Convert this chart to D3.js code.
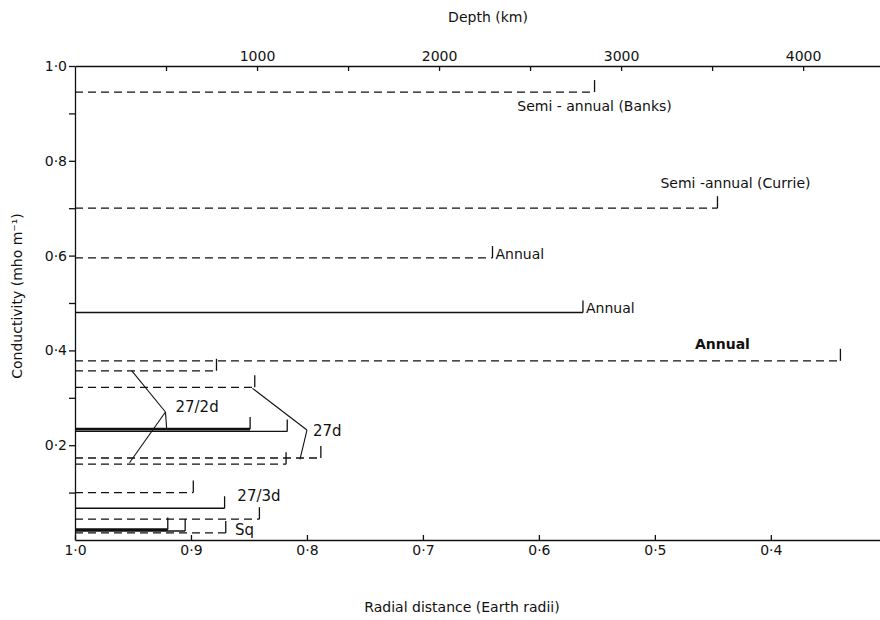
<!DOCTYPE html>
<html>
<head>
<meta charset="utf-8">
<script src="https://cdn.jsdelivr.net/npm/d3@7"></script>
<style>
  body { margin: 0; background: #fff; }
  text { font-family: "DejaVu Sans", sans-serif; fill: #111; }
</style>
</head>
<body>
<svg id="chart" width="880" height="620"></svg>
<script>
// conductivity (mho/m) of each model line, radius (Earth radii) where it stops, and model kind
const conductivity = [0.945, 0.70, 0.595, 0.48, 0.378, 0.357, 0.322, 0.234, 0.229, 0.173, 0.160, 0.100, 0.067, 0.044, 0.022, 0.019, 0.015];
const radiusEnd    = [0.552, 0.446, 0.640, 0.562, 0.340, 0.878, 0.845, 0.849, 0.817, 0.788, 0.818, 0.898, 0.871, 0.841, 0.920, 0.905, 0.870];
const modelKind    = ["core", "core", "core", "shell", "core", "core", "core", "heavy", "shell", "core", "core", "core", "shell", "core", "heavy", "shell", "core"];
const lineLabel    = ["Semi - annual (Banks)", "Semi -annual (Currie)", "Annual", "Annual", "Annual", "", "", "", "", "", "", "", "", "", "", "", ""];

const radialTicks = [1.0, 0.9, 0.8, 0.7, 0.6, 0.5, 0.4];
const depthTicks = [500, 1000, 1500, 2000, 2500, 3000, 3500, 4000, 4500];
const depthLabels = [1000, 2000, 3000, 4000];
const condTicks = [0.1, 0.2, 0.3, 0.4, 0.5, 0.6, 0.7, 0.8, 0.9, 1.0];
const condLabels = [0.2, 0.4, 0.6, 0.8, 1.0];

// period groups pointing at several lines: [radius, conductivity] of junction and targets
const groupNames = ["27/2d", "27d"];
const groupJunction = [[0.922, 0.270], [0.800, 0.232]];
const groupTargets = [
  [[0.951, 0.357], [0.953, 0.163], [0.921, 0.236]],
  [[0.847, 0.320], [0.806, 0.170]]
];
const extraLabels = ["27/3d", "Sq"];
const extraAt = [[0.86, 0.092], [0.862, 0.021]];

const EARTH_R = 6371;

const svg = d3.select("#chart");
const x = d3.scaleLinear().domain([1.0, 0.305]).range([75, 881]);
const y = d3.scaleLinear().domain([0, 1]).range([540, 66]);
const depth = d3.scaleLinear()
  .domain([0, 0.695 * EARTH_R])
  .range([75, 881]);

const fmt = (d) => d3.format(".1f")(d).replace(".", "·");

// bottom axis
const axisB = svg.append("g")
  .attr("transform", `translate(0,${y(0)})`)
  .call(d3.axisBottom(x).tickValues(radialTicks).tickSizeInner(-5).tickSizeOuter(0).tickPadding(5).tickFormat(fmt));

// top axis (depth)
const axisT = svg.append("g")
  .attr("transform", `translate(0,${y(1)})`)
  .call(d3.axisTop(depth).tickValues(depthTicks).tickSizeInner(-5).tickSizeOuter(0).tickPadding(5)
    .tickFormat((d) => depthLabels.includes(d) ? d : ""));

// left axis
const axisL = svg.append("g")
  .attr("transform", `translate(${x(1)},0)`)
  .call(d3.axisLeft(y).tickValues(condTicks).tickSizeInner(6).tickSizeOuter(0).tickPadding(2)
    .tickFormat((d) => condLabels.some((v) => Math.abs(v - d) < 1e-9) ? fmt(d) : ""));

[axisB, axisT, axisL].forEach((g) => {
  g.selectAll("path, line").attr("stroke", "#111").attr("stroke-width", 1.3);
  g.selectAll("text").style("font-size", "14px").attr("fill", "#111");
});

// model lines
const rows = conductivity.map((c, i) => ({ c, r: radiusEnd[i], kind: modelKind[i], label: lineLabel[i] }));

const lines = svg.append("g");
lines.selectAll("line.h")
  .data(rows)
  .enter()
  .append("line")
  .attr("class", "h")
  .attr("x1", x(1))
  .attr("x2", (d) => x(d.r))
  .attr("y1", (d) => y(d.c))
  .attr("y2", (d) => y(d.c))
  .attr("stroke", "#111")
  .attr("stroke-width", (d) => d.kind === "heavy" ? 2.8 : 1.3)
  .attr("stroke-dasharray", (d) => d.kind === "core" ? "8,5" : null);

lines.selectAll("line.v")
  .data(rows)
  .enter()
  .append("line")
  .attr("class", "v")
  .attr("x1", (d) => x(d.r))
  .attr("x2", (d) => x(d.r))
  .attr("y1", (d) => y(d.c))
  .attr("y2", (d) => y(d.c) - 12)
  .attr("stroke", "#111")
  .attr("stroke-width", 1.3);

// line labels
const labelPlace = [
  (d) => [x(d.r), y(d.c) + 19, "middle"],
  (d) => [x(d.r) + 18, y(d.c) - 20, "middle"],
  (d) => [x(d.r) + 3, y(d.c) + 1, "start"],
  (d) => [x(d.r) + 3, y(d.c) + 1, "start"],
  (d) => [x(d.r) - 118, y(d.c) - 12, "middle"]
];
rows.forEach((d, i) => {
  if (!d.label) return;
  const [lx, ly, anchor] = labelPlace[i](d);
  svg.append("text")
    .attr("x", lx)
    .attr("y", ly)
    .attr("text-anchor", anchor)
    .style("font-size", "14px")
    .style("font-weight", i === 4 ? "bold" : null)
    .text(d.label);
});

// group pointers
groupNames.forEach((name, i) => {
  const [jr, jc] = groupJunction[i];
  groupTargets[i].forEach(([tr, tc]) => {
    svg.append("line")
      .attr("x1", x(jr)).attr("y1", y(jc))
      .attr("x2", x(tr)).attr("y2", y(tc))
      .attr("stroke", "#111")
      .attr("stroke-width", 1.1);
  });
  svg.append("text")
    .attr("x", x(jr) + (i === 0 ? 10 : 6))
    .attr("y", y(jc) + (i === 0 ? 0 : 6))
    .style("font-size", "15px")
    .text(name);
});

extraLabels.forEach((name, i) => {
  svg.append("text")
    .attr("x", x(extraAt[i][0]))
    .attr("y", y(extraAt[i][1]) + 5)
    .style("font-size", "15px")
    .text(name);
});

// axis titles
svg.append("text")
  .attr("x", 488)
  .attr("y", 22)
  .attr("text-anchor", "middle")
  .style("font-size", "14px")
  .text("Depth (km)");

svg.append("text")
  .attr("x", 462)
  .attr("y", 612)
  .attr("text-anchor", "middle")
  .style("font-size", "14px")
  .text("Radial distance (Earth radii)");

svg.append("text")
  .attr("transform", "translate(22,296) rotate(-90)")
  .attr("text-anchor", "middle")
  .style("font-size", "14px")
  .text("Conductivity (mho m⁻¹)");
</script>
</body>
</html>
